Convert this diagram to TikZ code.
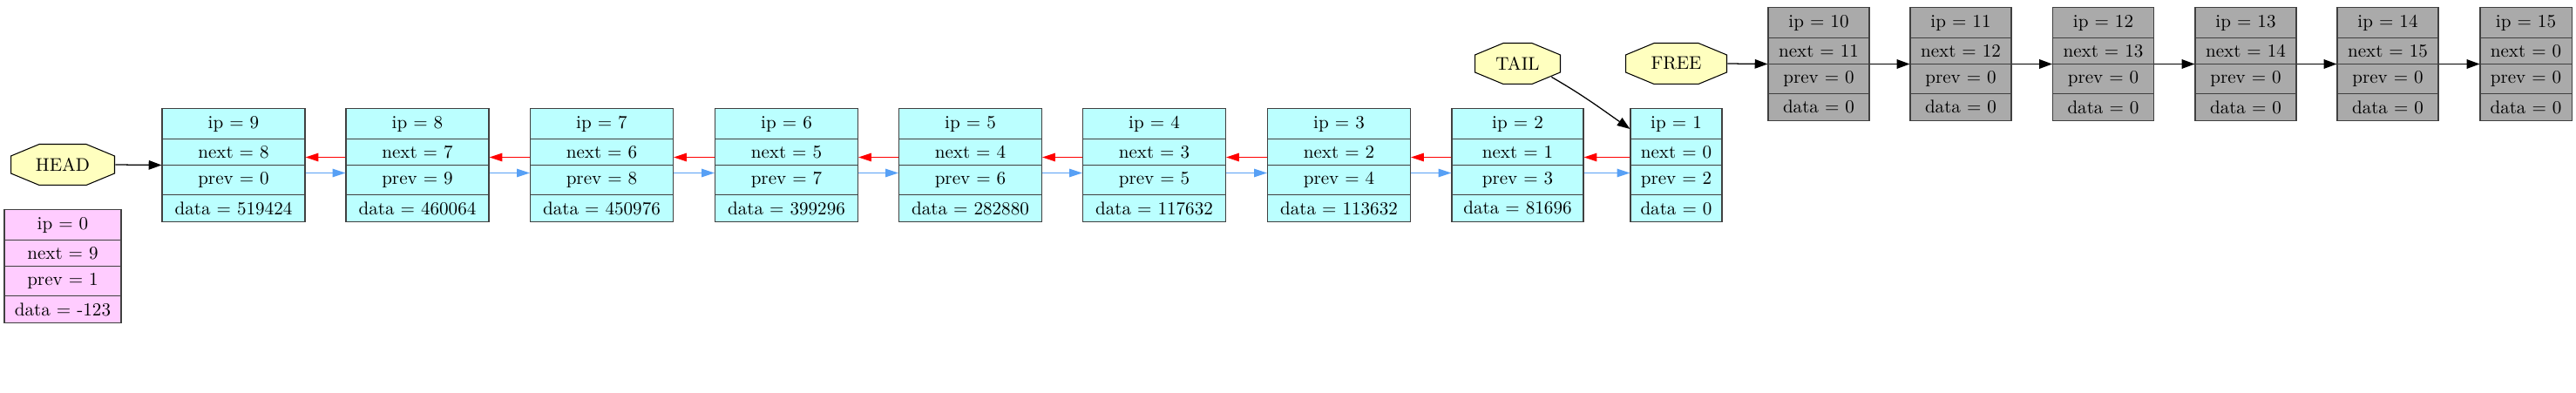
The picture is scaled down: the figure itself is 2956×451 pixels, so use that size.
\documentclass[tikz,border=0pt]{standalone}
\usepackage{xcolor}
\usepackage{tikz}
\usetikzlibrary{
    positioning,
    arrows.meta,
    shapes.multipart
}
\definecolor{listCyan}{RGB}{187, 255, 255}
\definecolor{listGray}{RGB}{170, 170, 170}
\definecolor{listPink}{RGB}{255, 204, 255}
\definecolor{listYellow}{RGB}{255, 255, 191}
\definecolor{listBlue}{RGB}{87, 160, 245}
\definecolor{listRed}{RGB}{255, 0, 0}
\definecolor{listBorder}{RGB}{64, 64, 64}
\newlength{\px}
\setlength{\px}{0.4743pt}

\tikzset{
    cell/.style={rectangle split, rectangle split parts=4, draw=listBorder, line width=0.5pt,
        text height=7pt, text depth=2pt, inner ysep=3.5pt, inner xsep=2pt},
    usedcell/.style={cell, fill=listCyan},
    freecell/.style={cell, fill=listGray},
    dummycell/.style={cell, fill=listPink},
    % octagon drawn inside the node box
    pointer/.style={rectangle, minimum width=#1, minimum height=48\px, inner sep=1pt,
        path picture={
            \draw[fill=listYellow, line width=0.5pt]
                ([xshift=33\px, yshift=-0.25pt]path picture bounding box.north west)
                -- ([xshift=-33\px, yshift=-0.25pt]path picture bounding box.north east)
                -- ([xshift=-0.25pt, yshift=-14\px]path picture bounding box.north east)
                -- ([xshift=-0.25pt, yshift=14\px]path picture bounding box.south east)
                -- ([xshift=-33\px, yshift=0.25pt]path picture bounding box.south east)
                -- ([xshift=33\px, yshift=0.25pt]path picture bounding box.south west)
                -- ([xshift=0.25pt, yshift=14\px]path picture bounding box.south west)
                -- ([xshift=0.25pt, yshift=-14\px]path picture bounding box.north west)
                -- cycle;
        }},
    ptredge/.style={-{Triangle[length=7pt, width=5pt]}, line width=0.6pt, black},
    nextedge/.style={-{Triangle[length=7pt, width=4.5pt]}, line width=0.6pt, listRed},
    prevedge/.style={-{Triangle[length=7pt, width=4.5pt]}, line width=0.6pt, listBlue}
}

\begin{document}
\begin{tikzpicture}[x=\px, y=-\px]
    \useasboundingbox (0,0) rectangle (2956,451);

    % pointers
    \node[pointer=120\px] (HEAD) at (72,189) {HEAD};
    \node[pointer=99\px] (TAIL) at (1741.5,73) {TAIL};
    \node[pointer=117\px] (FREE) at (1923.5,73) {FREE};

    % dummy cell
    \node[dummycell, minimum width=134\px] (n0) at (72,305.5)
        {ip = 0 \nodepart{two} next = 9 \nodepart{three} prev = 1 \nodepart{four} data = -123};

    % used cells
    \foreach \ip/\nx/\pv/\dt/\xc/\w in {9/8/0/519424/268/164, 8/7/9/460064/479/164,
        7/6/8/450976/690.5/164, 6/5/7/399296/902.5/164, 5/4/6/282880/1113.5/164,
        4/3/5/117632/1324.5/164, 3/2/4/113632/1536.5/164, 2/1/3/81696/1741.5/151,
        1/0/2/0/1923.5/105}
        \node[usedcell, minimum width=\w\px] (n\ip) at (\xc,189.5)
            {ip = \ip \nodepart{two} next = \nx \nodepart{three} prev = \pv \nodepart{four} data = \dt};

    % free cells
    \foreach \ip/\nx/\xc/\w in {10/11/2087/116, 11/12/2250/116, 12/13/2413.5/116,
        13/14/2577/116, 14/15/2740/116, 15/0/2898.5/105}
        \node[freecell, minimum width=\w\px] (n\ip) at (\xc,73.5)
            {ip = \ip \nodepart{two} next = \nx \nodepart{three} prev = 0 \nodepart{four} data = 0};

    % links
    \foreach \a/\b in {9/8, 8/7, 7/6, 6/5, 5/4, 4/3, 3/2, 2/1} {
        \draw[nextedge] ([yshift=9\px]n\b.west) -- ([yshift=9\px]n\a.east);
        \draw[prevedge] ([yshift=-9\px]n\a.east) -- ([yshift=-9\px]n\b.west);
    }
    \foreach \a/\b in {10/11, 11/12, 12/13, 13/14, 14/15}
        \draw[ptredge] (n\a) -- (n\b);

    \draw[ptredge] (HEAD.east) -- (n9.west);
    \draw[ptredge] ([xshift=-11\px, yshift=9\px]TAIL.south east) to[out=-30, in=145] ([yshift=-24\px]n1.north west);
    \draw[ptredge] (FREE.east) -- (n10.west);
\end{tikzpicture}
\end{document}
